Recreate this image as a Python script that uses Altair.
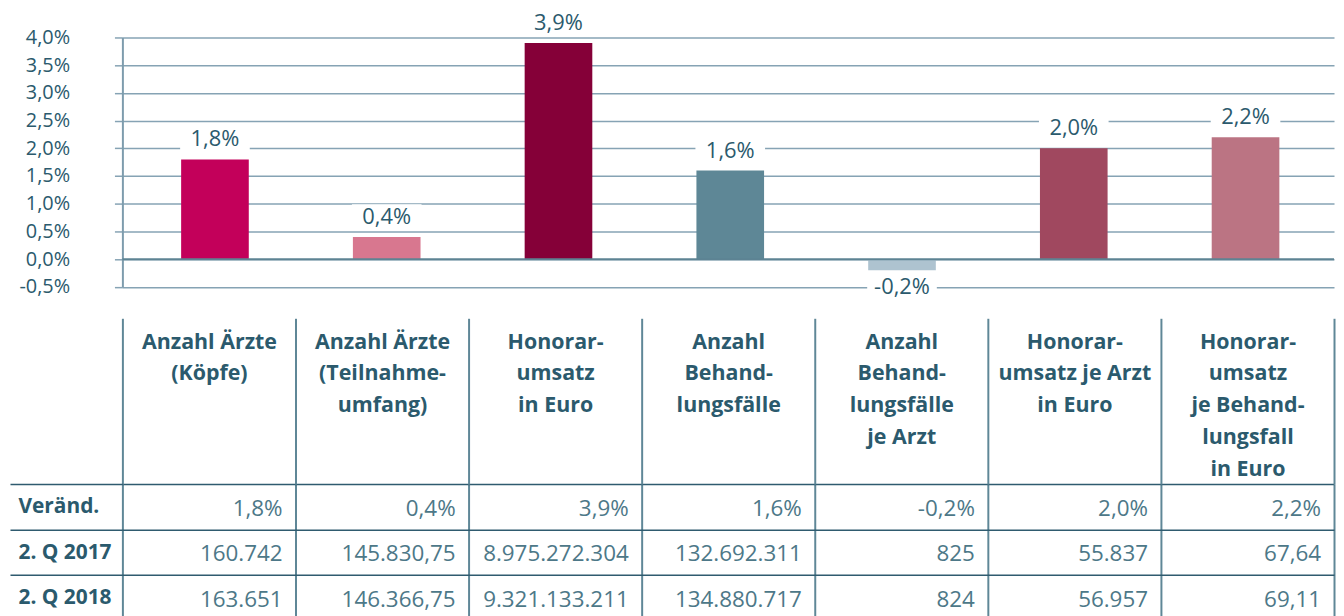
import altair as alt
import pandas as pd

# ---------------- data ----------------
col_headers = [
    "Anzahl Ärzte|(Köpfe)",
    "Anzahl Ärzte|(Teilnahme-|umfang)",
    "Honorar-|umsatz|in Euro",
    "Anzahl|Behand-|lungsfälle",
    "Anzahl|Behand-|lungsfälle|je Arzt",
    "Honorar-|umsatz je Arzt|in Euro",
    "Honorar-|umsatz|je Behand-|lungsfall|in Euro",
]
changes = [1.8, 0.4, 3.9, 1.6, -0.2, 2.0, 2.2]
bar_colors = ["#c3005a", "#d8778f", "#850038", "#5e8796", "#aec3d0", "#a0485f", "#bb7483"]
row_labels = ["Veränd.", "2. Q 2017", "2. Q 2018"]
q2_2017 = ["160.742", "145.830,75", "8.975.272.304", "132.692.311", "825", "55.837", "67,64"]
q2_2018 = ["163.651", "146.366,75", "9.321.133.211", "134.880.717", "824", "56.957", "69,11"]
y_ticks = [-0.5, 0.0, 0.5, 1.0, 1.5, 2.0, 2.5, 3.0, 3.5, 4.0]


def pct(v):
    return f"{v:.1f}".replace(".", ",") + "%"


bars_df = pd.DataFrame({"col": col_headers, "value": changes,
                        "label": [pct(v) for v in changes]})

rows = []
for i, h in enumerate(col_headers):
    rows.append({"col": h, "row": row_labels[0], "text": pct(changes[i])})
    rows.append({"col": h, "row": row_labels[1], "text": q2_2017[i]})
    rows.append({"col": h, "row": row_labels[2], "text": q2_2018[i]})
table_df = pd.DataFrame(rows)

# ---------------- style ----------------
FONT = "Open Sans"
DARK = "#2b5a6d"
VALUE = "#4d7888"
GRID = "#86a3b4"
HLINE = "#2f5b6f"
VLINE = "#5f8797"

# ---------------- bar chart ----------------
x_bar = alt.X("col:N", sort=col_headers, axis=None,
              scale=alt.Scale(paddingInner=0, paddingOuter=0.027, align=0.72))
y_axis = alt.Axis(
    values=y_ticks, tickCount=len(y_ticks), title=None,
    labelExpr="replace(replace(format(datum.value, '.1f'), '.', ','), '\u2212', '-') + '%'",
    labelFont=FONT, labelFontSize=20, labelColor=DARK, labelPadding=45,
    labelOverlap=False, labelFlush=False,
    grid=True, gridColor=GRID, gridWidth=1.5,
    ticks=True, tickSize=8, tickColor=GRID, tickWidth=1.5,
    domain=True, domainColor="#7e9cad", domainWidth=2,
)
y_bar = alt.Y("value:Q", axis=y_axis,
              scale=alt.Scale(domain=[-0.5, 4.0], nice=False, zero=False))
y_plain = alt.Y("value:Q")

base = alt.Chart(bars_df).encode(x=x_bar)

bars = base.mark_bar(size=68).encode(
    y=y_bar,
    color=alt.Color("col:N", sort=col_headers, legend=None,
                    scale=alt.Scale(domain=col_headers, range=bar_colors)),
)
zero = alt.Chart(pd.DataFrame({"v": [0.0]})).mark_rule(
    color="#5d8393", strokeWidth=2).encode(y="v:Q")

pos = base.transform_filter("datum.value >= 0")
neg = base.transform_filter("datum.value < 0")

box_pos = pos.mark_tick(color="white", size=70, thickness=26, yOffset=-20, opacity=1).encode(y=y_plain)
box_neg = neg.mark_tick(color="white", size=70, thickness=26, yOffset=17, opacity=1).encode(y=y_plain)
txt_pos = pos.mark_text(dy=-20, baseline="middle", font=FONT, fontSize=22, color=DARK).encode(
    y=y_plain, text="label:N")
txt_neg = neg.mark_text(dy=17, baseline="middle", font=FONT, fontSize=22, color=DARK).encode(
    y=y_plain, text="label:N")

top = alt.layer(bars, zero, box_pos, box_neg, txt_pos, txt_neg).properties(
    width=1218, height=250.7)

# ---------------- table ----------------
table = alt.Chart(table_df).mark_text(
    align="right", baseline="middle", dx=-13, dy=2,
    font=FONT, fontSize=22.5, color=VALUE,
).encode(
    x=alt.X("col:N", sort=col_headers, bandPosition=1,
            scale=alt.Scale(paddingInner=0, paddingOuter=0),
            axis=alt.Axis(
                orient="top", title=None, domain=False,
                ticks=True, tickBand="extent", tickSize=166.7,
                tickColor=VLINE, tickWidth=2,
                grid=True, gridColor=VLINE, gridWidth=2,
                labelExpr="split(datum.label, '|')", labelAngle=0,
                labelAlign="center", labelBaseline="alphabetic",
                labelPadding=-30, labelFont=FONT, labelFontSize=21.5,
                labelFontWeight="bold", labelColor=DARK, labelLineHeight=32,
                labelOverlap=False, labelLimit=400,
            )),
    y=alt.Y("row:N", sort=row_labels,
            scale=alt.Scale(paddingInner=0, paddingOuter=0),
            axis=alt.Axis(
                title=None, domain=False,
                ticks=True, tickBand="extent", tickSize=113,
                tickColor=HLINE, tickWidth=1.5,
                grid=True, gridColor=HLINE, gridWidth=1.5,
                labelAlign="left", labelBaseline="middle", labelPadding=-8,
                labelFont=FONT, labelFontSize=21, labelFontWeight="bold",
                labelColor=DARK, labelLimit=200,
            )),
    text="text:N",
).properties(width=1218, height=137)

chart = alt.vconcat(top, table, spacing=198, bounds="flush").properties(
    padding={"left": 0, "top": 0, "right": 0, "bottom": 0}
).configure_view(stroke="transparent")

chart.save("out.html", embed_options={"renderer": "svg", "actions": False})
